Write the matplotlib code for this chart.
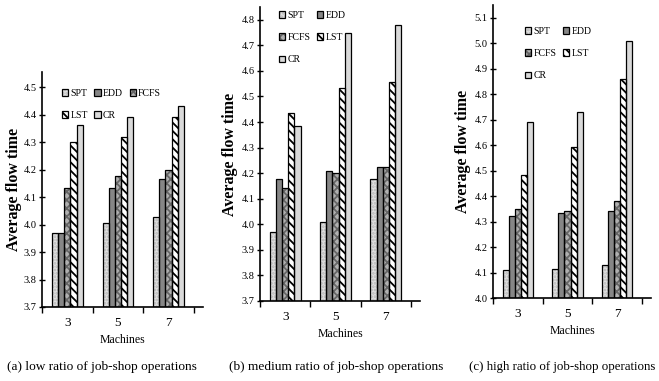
import numpy as np
import matplotlib
matplotlib.use('Agg')
import matplotlib.pyplot as plt
from matplotlib.patches import Patch

plt.rcParams['font.family'] = ['Liberation Serif', 'DejaVu Serif']
plt.rcParams['hatch.linewidth'] = 1.3

# data
machines = ['3', '5', '7']
rules = ['SPT', 'EDD', 'FCFS', 'LST', 'CR']

# (a) low ratio of job-shop operations
low_spt = [3.970, 4.006, 4.028]
low_edd = [3.970, 4.133, 4.165]
low_fcfs = [4.133, 4.178, 4.200]
low_lst = [4.302, 4.318, 4.392]
low_cr = [4.362, 4.392, 4.432]

# (b) medium ratio
med_spt = [3.970, 4.010, 4.176]
med_edd = [4.176, 4.210, 4.223]
med_fcfs = [4.142, 4.200, 4.223]
med_lst = [4.434, 4.535, 4.557]
med_cr = [4.385, 4.748, 4.780]

# (c) high ratio
high_spt = [4.108, 4.115, 4.130]
high_edd = [4.323, 4.332, 4.341]
high_fcfs = [4.348, 4.341, 4.380]
high_lst = [4.483, 4.593, 4.858]
high_cr = [4.690, 4.730, 5.008]

captions = ['(a) low ratio of job-shop operations',
            '(b) medium ratio of job-shop operations',
            '(c) high ratio of job-shop operations']

# bar styles
faces = ['#e0e0e0', '#868686', '#b0b0b0', '#ffffff', '#d9d9d9']
hatches = ['.....', None, 'xxxx', '\\\\\\\\', None]
hatch_cols = ['#b8b8b8', '#868686', '#666666', '#000000', '#d9d9d9']

W, H = 659, 381
fig = plt.figure(figsize=(W / 100, H / 100), dpi=100)


def px_axes(left, right, top, bottom):
    return fig.add_axes([left / W, 1 - bottom / H, (right - left) / W, (bottom - top) / H])


def draw_panel(ax, series, ylo, yhi, ticks, leg_xy, ncol, order, ylab_x):
    x = np.arange(len(machines)) + 0.5
    w = 0.122
    handles = []
    for i, vals in enumerate(series):
        vals = np.array(vals)
        xs = x + (i - 2) * w
        ax.bar(xs, vals - ylo, w, bottom=ylo, color=faces[i], hatch=hatches[i],
               edgecolor=hatch_cols[i], linewidth=0, zorder=2)
        ax.bar(xs, vals - ylo, w, bottom=ylo, fill=False, edgecolor='black',
               linewidth=0.9, zorder=3)
        p1 = Patch(facecolor=faces[i], hatch=hatches[i], edgecolor=hatch_cols[i], linewidth=0)
        p2 = Patch(fill=False, edgecolor='black', linewidth=0.9)
        handles.append((p1, p2))
    ax.set_xlim(0, 3.18)
    ax.set_ylim(ylo, yhi)
    ax.set_yticks(ticks)
    ax.set_yticklabels(['%.1f' % t for t in ticks], fontsize=7.5)
    ax.set_xticks(x)
    ax.set_xticklabels(machines, fontsize=9.5)
    ax.set_xticks([0, 1, 2, 3], minor=True)
    ax.tick_params(axis='x', which='major', length=0, pad=7)
    ax.tick_params(axis='x', which='minor', length=4, width=1, direction='out')
    ax.tick_params(axis='y', length=4, width=1, direction='inout', pad=2)
    for s in ['top', 'right']:
        ax.spines[s].set_visible(False)
    for s in ['left', 'bottom']:
        ax.spines[s].set_linewidth(1.2)
    ax.set_xlabel('Machines', fontsize=8.5, labelpad=4)
    ax.set_ylabel('Average flow time', fontsize=11.5, fontweight='bold')
    ax.yaxis.set_label_coords(ylab_x, 0.5)
    ax.legend([handles[k] for k in order], [rules[k] for k in order],
              loc='upper left', bbox_to_anchor=(leg_xy[0] / W, 1 - leg_xy[1] / H),
              bbox_transform=fig.transFigure, ncol=ncol, frameon=False, fontsize=7,
              handlelength=0.65, handleheight=0.65, handletextpad=0.2,
              columnspacing=0.7, labelspacing=1.35, borderpad=0, borderaxespad=0)


ax_a = px_axes(42, 203, 72, 307)
draw_panel(ax_a, [low_spt, low_edd, low_fcfs, low_lst, low_cr], 3.7, 4.555,
           np.arange(3.7, 4.51, 0.1), (62, 89), 3, [0, 3, 1, 4, 2], -0.125)

ax_b = px_axes(260, 420, 7, 301)
draw_panel(ax_b, [med_spt, med_edd, med_fcfs, med_lst, med_cr], 3.7, 4.85,
           np.arange(3.7, 4.81, 0.1), (279, 11), 2, [0, 2, 4, 1, 3], -0.135)

ax_c = px_axes(493, 651, 5, 298)
draw_panel(ax_c, [high_spt, high_edd, high_fcfs, high_lst, high_cr], 4.0, 5.15,
           np.arange(4.0, 5.11, 0.1), (525, 27), 2, [0, 2, 4, 1, 3], -0.14)

for cx, txt, fs in zip([102, 336, 562], captions, [9.6, 9.6, 9.3]):
    fig.text(cx / W, 1 - 367 / H, txt, fontsize=fs, ha='center', va='center')

fig.savefig('out.png', dpi=100)
